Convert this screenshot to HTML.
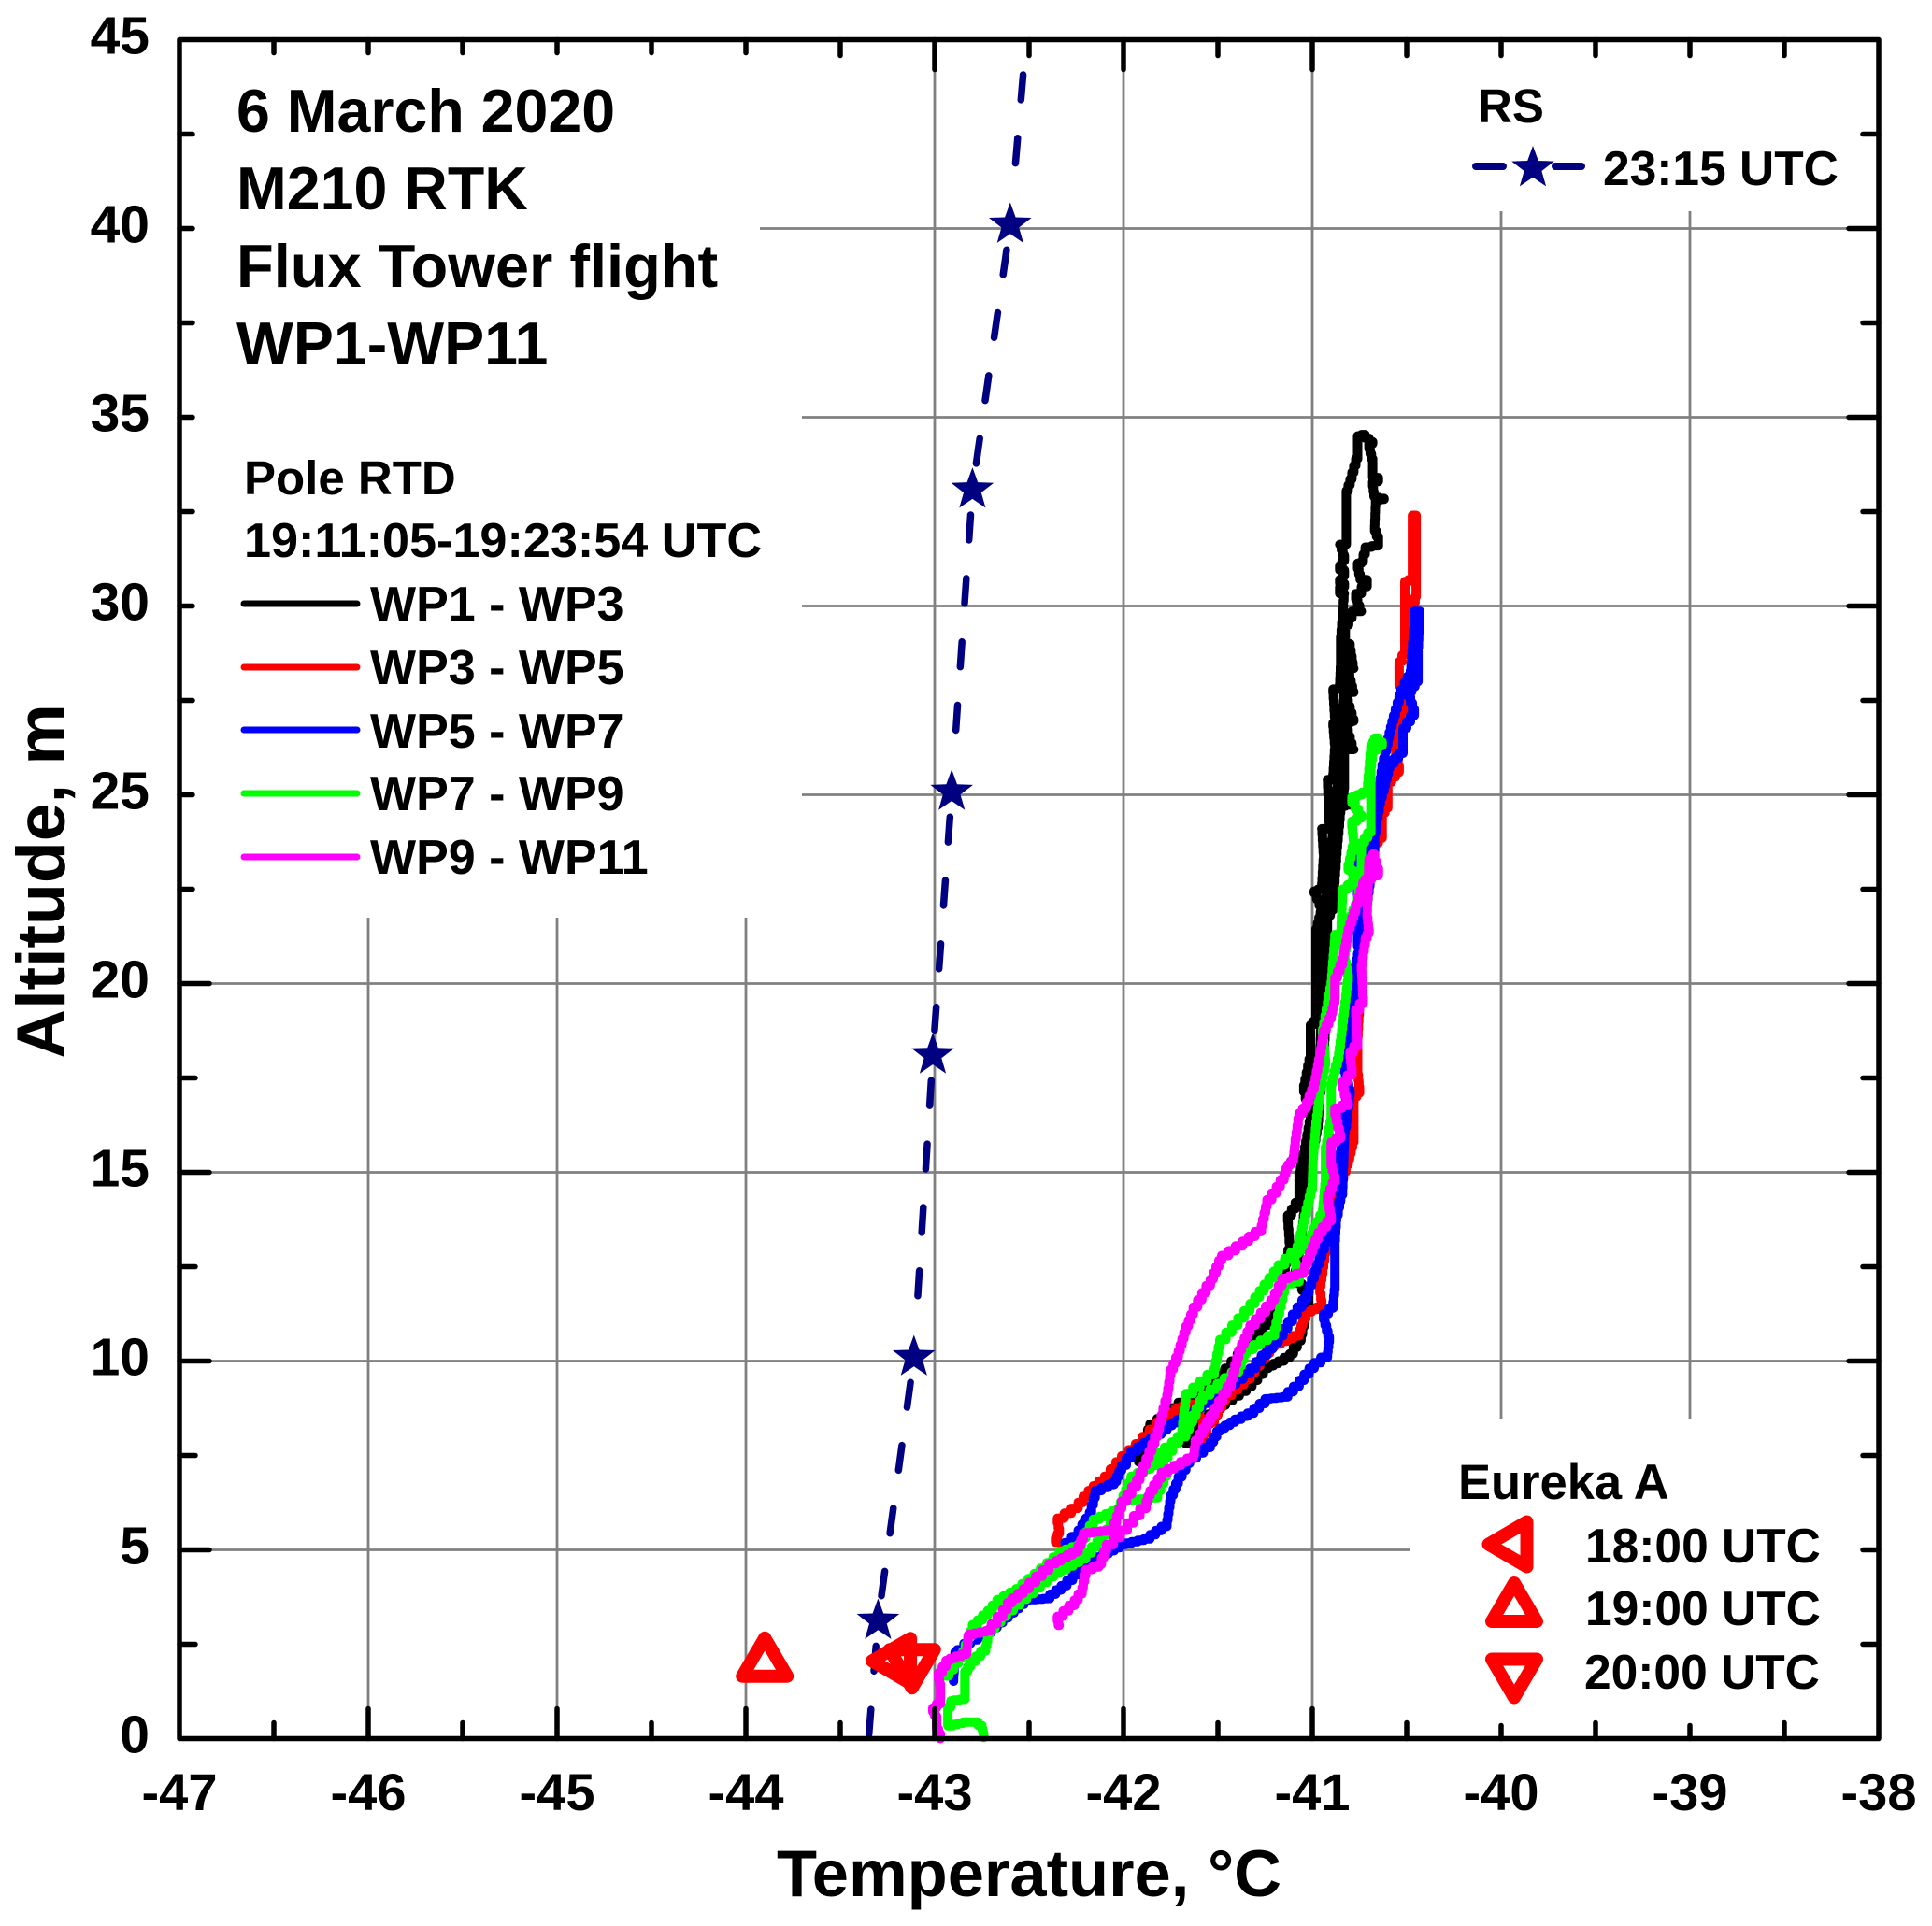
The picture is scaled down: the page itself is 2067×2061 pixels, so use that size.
<!DOCTYPE html>
<html>
<head>
<meta charset="utf-8">
<title>Temperature profile 6 March 2020</title>
<style>
html,body{margin:0;padding:0;background:#fff;}
svg{display:block;}
text{font-family:"Liberation Sans",Arial,sans-serif;font-weight:bold;fill:#000;}
</style>
</head>
<body>
<svg id="chart" xmlns="http://www.w3.org/2000/svg" width="2067" height="2061" viewBox="0 0 2067 2061">
  <rect x="0" y="0" width="2067" height="2061" fill="#fff"/>
  <g id="grid"></g>
  <g id="series"></g>
  <g id="rs"></g>
  <g id="eureka"></g>
  <g id="axes"></g>

  <text x="1101" y="2029" font-size="70.5" text-anchor="middle">Temperature, °C</text>
  <text transform="translate(69,943) rotate(-90)" font-size="73.5" text-anchor="middle">Altitude, m</text>

  <g>
    <text x="253" y="141" font-size="64.5">6 March 2020</text>
    <text x="253" y="224" font-size="64.5">M210 RTK</text>
    <text x="253" y="307" font-size="65">Flux Tower flight</text>
    <text x="253" y="390" font-size="64.5">WP1-WP11</text>
  </g>

  <g>
    <text x="261" y="529" font-size="51">Pole RTD</text>
    <text x="261" y="596" font-size="52.2">19:11:05-19:23:54 UTC</text>
    <line x1="261" x2="382" y1="646" y2="646" stroke="#000000" stroke-width="7" stroke-linecap="round"/>
    <text x="396" y="664" font-size="52">WP1 - WP3</text>
    <line x1="261" x2="382" y1="714" y2="714" stroke="#ff0000" stroke-width="7" stroke-linecap="round"/>
    <text x="396" y="732" font-size="52">WP3 - WP5</text>
    <line x1="261" x2="382" y1="781" y2="781" stroke="#0000ff" stroke-width="7" stroke-linecap="round"/>
    <text x="396" y="800" font-size="52">WP5 - WP7</text>
    <line x1="261" x2="382" y1="849" y2="849" stroke="#00ff00" stroke-width="7" stroke-linecap="round"/>
    <text x="396" y="867" font-size="52">WP7 - WP9</text>
    <line x1="261" x2="382" y1="917" y2="917" stroke="#ff00ff" stroke-width="7" stroke-linecap="round"/>
    <text x="396" y="935" font-size="52">WP9 - WP11</text>
  </g>

  <g>
    <text x="1581" y="131" font-size="51">RS</text>
    <line x1="1579" x2="1608" y1="178" y2="178" stroke="#000080" stroke-width="8" stroke-linecap="round"/>
    <polygon id="rsLegendStar" fill="#000080"/>
    <line x1="1664" x2="1692" y1="178" y2="178" stroke="#000080" stroke-width="8" stroke-linecap="round"/>
    <text x="1715" y="198" font-size="51.5">23:15 UTC</text>
  </g>

  <g>
    <text x="1560" y="1604" font-size="52.5">Eureka A</text>
    <polygon id="legLeft" fill="none" stroke="#ff0000" stroke-width="14" stroke-linejoin="round"/>
    <text x="1696" y="1672" font-size="51.5">18:00 UTC</text>
    <polygon id="legUp" fill="none" stroke="#ff0000" stroke-width="14" stroke-linejoin="round"/>
    <text x="1696" y="1739" font-size="51.5">19:00 UTC</text>
    <polygon id="legDown" fill="none" stroke="#ff0000" stroke-width="14" stroke-linejoin="round"/>
    <text x="1695" y="1807" font-size="51.5">20:00 UTC</text>
  </g>
</svg>
<script>
// ---- chart data ----
const xTickLabels = [-47,-46,-45,-44,-43,-42,-41,-40,-39,-38];
const yTickLabels = [0,5,10,15,20,25,30,35,40,45];

const wp1Wp3Points = [[-41.92,7.33],[-41.86,8.19],[-41.71,8.76],[-41.56,9.33],[-41.43,9.81],[-41.2,11.14],[-41.16,12],[-41.12,12.95],[-41.13,13.7],[-41.07,14.2],[-41.07,14.8],[-41.04,15.5],[-41.01,16.35],[-41.045,17.13],[-41.01,18],[-41.01,18.8],[-40.98,19],[-40.98,21.3],[-40.95,21.9],[-40.99,22.4],[-40.95,22.5],[-40.94,23.3],[-40.95,24.1],[-40.91,24.1],[-40.92,25.37],[-40.89,25.4],[-40.88,26.2],[-40.89,26.8],[-40.88,26.9],[-40.89,27.7],[-40.855,27.8],[-40.85,28.4],[-40.85,29],[-40.83,30.33],[-40.855,30.33],[-40.83,30.5],[-40.855,30.6],[-40.83,30.8],[-40.855,30.95],[-40.83,31.2],[-40.855,31.63],[-40.82,31.63],[-40.82,32.9],[-40.79,33.36],[-40.76,33.9],[-40.76,34.47],[-40.72,34.54],[-40.68,34.35],[-40.7,34.3],[-40.68,33.9],[-40.68,33.45],[-40.65,33.4],[-40.68,33.3],[-40.67,32.9],[-40.62,32.85],[-40.665,32.8],[-40.67,32.13],[-40.65,31.84],[-40.65,31.63],[-40.72,31.56],[-40.74,31.18],[-40.76,31.13],[-40.74,30.7],[-40.71,30.7],[-40.77,30.33],[-40.74,29.86],[-40.79,29.86],[-40.825,29.5],[-40.825,28],[-40.84,27],[-40.85,26],[-40.87,25],[-40.89,24],[-40.91,23],[-40.93,22],[-40.95,21],[-40.95,19.5],[-40.96,18],[-40.98,17],[-40.99,16],[-41.01,15.4],[-41.03,14.8],[-41.01,15.4],[-40.99,16],[-40.98,17],[-40.96,18],[-40.95,19.5],[-40.95,21],[-40.93,22],[-40.91,23],[-40.89,24],[-40.87,25],[-40.85,26],[-40.84,27],[-40.825,28],[-40.8,29],[-40.78,28.35],[-40.81,28.35],[-40.78,27.73],[-40.82,27.7],[-40.78,27],[-40.82,26.9],[-40.78,26.2],[-40.83,26.2],[-40.83,25.3],[-40.84,24.85],[-40.8,24.77],[-40.85,24.7],[-40.87,23.6],[-40.88,22.86],[-40.89,22.1],[-40.92,21.8],[-40.92,21.3],[-40.93,19],[-40.94,18],[-40.96,17.1],[-40.97,16.35],[-41,15.5],[-41.02,14.8],[-41.04,14.2],[-41.05,13.7],[-41.07,13],[-41.09,12.4],[-41.02,11.7],[-41.06,10.71],[-41.12,10.19],[-41.18,10],[-41.26,9.81],[-41.35,9.33],[-41.46,8.95],[-41.58,8.48],[-41.67,7.81]];

const wp3Wp5Points = [[-42.34,5.19],[-42.36,5.2],[-42.34,5.43],[-42.35,5.71],[-42.24,6.1],[-42.16,6.57],[-42.07,6.95],[-42.01,7.33],[-41.9,7.81],[-41.79,8.38],[-41.69,8.76],[-41.62,8.86],[-41.56,8.29],[-41.61,7.71],[-41.56,8.29],[-41.52,8.38],[-41.5,8.57],[-41.46,8.95],[-41.33,9.52],[-41.2,10.38],[-41.07,10.67],[-41.05,10.95],[-41.03,11.24],[-40.95,11.43],[-40.96,11.81],[-40.94,12.48],[-40.91,13.43],[-40.92,13.5],[-40.81,15.2],[-40.78,15.8],[-40.78,16.9],[-40.75,17.1],[-40.76,17.6],[-40.76,18.4],[-40.71,23],[-40.67,23.6],[-40.63,23.85],[-40.63,24.4],[-40.6,24.65],[-40.6,25.2],[-40.54,25.6],[-40.57,26.4],[-40.52,27],[-40.49,27.6],[-40.54,27.9],[-40.54,28.35],[-40.51,28.7],[-40.51,30.6],[-40.47,30.7],[-40.47,32.4],[-40.45,32.4],[-40.45,30.4],[-40.48,29.6]];

const wp5Wp7Points = [[-42.9,1.52],[-42.89,2.29],[-42.88,2.19],[-42.81,2.52],[-42.7,2.81],[-42.58,3.33],[-42.5,3.67],[-42.39,3.71],[-42.3,4.05],[-42.21,4.48],[-42.11,4.81],[-41.99,5.14],[-41.86,5.29],[-41.77,5.62],[-41.75,6.29],[-41.71,6.76],[-41.65,7.29],[-41.54,7.71],[-41.49,8.14],[-41.41,8.38],[-41.31,8.62],[-41.22,9],[-41.13,9.05],[-41.07,9.33],[-40.99,9.81],[-40.92,10.1],[-40.91,10.5],[-40.94,11.1],[-40.89,11.4],[-40.88,11.9],[-40.88,13],[-40.87,13.9],[-40.84,14.4],[-40.82,17.2],[-40.77,19.6],[-40.73,21.3],[-40.67,23.5],[-40.67,23.8],[-40.64,24.75],[-40.62,25.1],[-40.59,25.7],[-40.52,26.1],[-40.52,26.6],[-40.46,27.1],[-40.49,27.6],[-40.44,28],[-40.44,28.7],[-40.43,29.86],[-40.46,29.86],[-40.46,29.6],[-40.48,28.3],[-40.53,27.8],[-40.57,27.1],[-40.6,26.5],[-40.63,25.8],[-40.66,24.75],[-40.69,23.7],[-40.76,23.4],[-40.76,21],[-40.74,21.3],[-40.76,20.8],[-40.79,20],[-40.82,19],[-40.84,18],[-40.8,17.2],[-40.82,16.35],[-40.855,15.5],[-40.85,14.45],[-40.87,13.87],[-40.88,13.9],[-40.95,12.95],[-41.03,11.81],[-41.18,10.67],[-41.33,9.81],[-41.48,9.24],[-41.69,8.52],[-41.77,8.29],[-41.86,7.95],[-41.96,7.62],[-42.01,7.24],[-42.05,6.81],[-42.15,6.57],[-42.16,6.38],[-42.18,6],[-42.24,5.52],[-42.31,5.19]];

const wp7Wp9Points = [[-42.74,0.03],[-42.75,0.26],[-42.79,0.44],[-42.85,0.44],[-42.93,0.34],[-42.93,0.67],[-42.9,1],[-42.84,1.04],[-42.84,1.66],[-42.81,1.91],[-42.73,2.32],[-42.72,2.57],[-42.71,2.76],[-42.62,3.24],[-42.37,4.29],[-42.2,4.76],[-42.11,5.24],[-42.05,5.71],[-41.99,6.29],[-41.82,6.38],[-41.77,6.95],[-41.82,7.43],[-41.67,8],[-41.58,8.95],[-41.39,9.71],[-41.35,10.19],[-41.2,10.67],[-41.14,12],[-41.07,12.1],[-41.1,12.76],[-41.02,13.05],[-40.945,13.87],[-40.93,14.7],[-40.93,15.5],[-40.9,16.35],[-40.9,17.2],[-40.86,18],[-40.84,18.8],[-40.81,20.06],[-40.85,21.3],[-40.82,20.9],[-40.81,21.5],[-40.76,22.1],[-40.74,22.86],[-40.74,23.6],[-40.69,24],[-40.69,25.6],[-40.68,26.08],[-40.63,26.3],[-40.67,26.5],[-40.69,26.3],[-40.71,25.13],[-40.79,24.94],[-40.74,24.47],[-40.79,24.3],[-40.78,23.8],[-40.81,23.15],[-40.76,22.86],[-40.84,22.5],[-40.85,21.26],[-40.88,21.07],[-40.88,21.3],[-40.9,20.06],[-40.945,18.8],[-40.93,18],[-40.96,17.2],[-40.98,16.35],[-40.995,15.5],[-41,14.7],[-41.04,13.87],[-41.08,13.05],[-41.18,12.55],[-41.33,11.52],[-41.49,10.57],[-41.52,9.81],[-41.67,9.14],[-41.69,8.19],[-41.79,7.43],[-41.96,6.95],[-42.03,6.1],[-42.16,5.81],[-42.24,5.14],[-42.34,4.96],[-42.44,4.51],[-42.57,3.97],[-42.67,3.68],[-42.72,3.39],[-42.8,3.02],[-42.85,2.32],[-42.95,1.66]];

const wp9Wp11Points = [[-42.97,0],[-42.99,0.26],[-42.99,0.5],[-43.01,0.71],[-42.97,0.92],[-42.97,1.33],[-42.98,1.58],[-42.92,2.07],[-42.83,2.24],[-42.82,2.73],[-42.7,2.86],[-42.64,3.23],[-42.59,3.6],[-42.5,3.97],[-42.36,4.63],[-42.24,4.95],[-42.2,5.43],[-42.05,5.52],[-42.01,6.1],[-41.93,6.67],[-41.88,7.24],[-41.82,8],[-41.77,8.95],[-41.75,9.62],[-41.71,10.1],[-41.67,10.76],[-41.63,11.24],[-41.54,12],[-41.48,12.67],[-41.37,13.05],[-41.27,13.43],[-41.24,14.1],[-41.19,14.45],[-41.15,14.8],[-41.13,15.1],[-41.1,15.3],[-41.09,15.7],[-41.07,16.43],[-41.03,16.7],[-40.99,17.2],[-40.96,18],[-40.94,18.6],[-40.9,19.07],[-40.88,19.5],[-40.88,19.98],[-40.84,20.5],[-40.81,21.3],[-40.77,21.9],[-40.72,22.67],[-40.65,22.86],[-40.68,23.43],[-40.7,23.3],[-40.71,21.9],[-40.7,21.45],[-40.72,21.2],[-40.74,20.5],[-40.73,19.65],[-40.77,19.3],[-40.76,18.5],[-40.8,18.2],[-40.79,17.75],[-40.84,17.4],[-40.81,16.85],[-40.88,16.7],[-40.85,16],[-40.9,15.8],[-40.9,15.3],[-40.88,14.9],[-40.92,14.4],[-40.9,13.87],[-40.97,13.4],[-41.03,12.7],[-41.05,12.38],[-41.16,12.19],[-41.22,11.62],[-41.33,10.95],[-41.39,10.29],[-41.43,9.52],[-41.54,8.57],[-41.62,7.9],[-41.63,7.52],[-41.8,7.05],[-41.86,6.57],[-41.88,6.29],[-41.98,5.71],[-42.09,5.14],[-42.13,4.62],[-42.2,4.48],[-42.22,4],[-42.26,3.67],[-42.35,3.24],[-42.34,3]];

const rsLinePoints = [[-42.53,44.17],[-42.6,40.1],[-42.8,33.08],[-42.91,25.08],[-43.01,18.1],[-43.11,10.1],[-43.3,3.12],[-43.35,0]];

const eureka18Point = [-43.23,2.06];
const eureka19Point = [-43.9,2.16];
const eureka20Point = [-43.12,1.85];

// ---- axis functions ----
const xLeft = 192, xPerDeg = 202;
const yBottom = 1860.5, yPerMetre = 40.4;
function xPos(t){ return xLeft + (t + 47) * xPerDeg; }
function yPos(a){ return yBottom - a * yPerMetre; }

const NS = 'http://www.w3.org/2000/svg';
function make(tag, parent, attrs){
  const el = document.createElementNS(NS, tag);
  for (const k in attrs) el.setAttribute(k, attrs[k]);
  parent.appendChild(el);
  return el;
}
function starPoints(cx, cy, r){
  const pts = [];
  for (let i = 0; i < 10; i++){
    const rad = i % 2 ? r * 0.41 : r;
    const ang = -Math.PI / 2 + i * Math.PI / 5;
    pts.push((cx + rad * Math.cos(ang)).toFixed(1) + ',' + (cy + rad * Math.sin(ang)).toFixed(1));
  }
  return pts.join(' ');
}
function trianglePoints(cx, cy, dir){
  const b = 24, h = 20.5;
  if (dir === 'up') return [cx,cy-h, cx-b,cy+h, cx+b,cy+h].join(' ');
  if (dir === 'down') return [cx,cy+h, cx-b,cy-h, cx+b,cy-h].join(' ');
  return [cx-h,cy, cx+h,cy-b, cx+h,cy+b].join(' ');
}

// ---- grid ----
const grid = document.getElementById('grid');
const axes = document.getElementById('axes');
const gridStyle = {stroke:'#808080','stroke-width':2.8};
xTickLabels.slice(1, -1).forEach(function(t){
  const x = xPos(t);
  let y1 = yPos(45), y2 = yBottom;
  if (t <= -44) y1 = 982;
  if (t >= -40){ y1 = 226; y2 = 1518; }
  const ln = make('line', grid, Object.assign({x1:x, x2:x, y1:y1, y2:y2}, gridStyle));
  
  
});
yTickLabels.slice(1, -1).forEach(function(a){
  const y = yPos(a);
  let x1 = xLeft, x2 = xPos(-38);
  if (a === 40) x1 = 813;
  if (a >= 25 && a <= 35) x1 = 858;
  if (a === 5) x2 = 1509;
  const ln = make('line', grid, Object.assign({x1:x1, x2:x2, y1:y, y2:y}, gridStyle));
  
  
});

// ---- profile series (logger steps drawn as a fine staircase between read points) ----
function drawProfile(points, colour, width){
  let d = '';
  points.forEach(function(p, i){
    const x = xPos(p[0]), y = yPos(p[1]);
    if (i === 0){ d += 'M' + x.toFixed(1) + ' ' + y.toFixed(1); return; }
    const px = xPos(points[i - 1][0]), py = yPos(points[i - 1][1]);
    const n = Math.max(1, Math.ceil(Math.max(Math.abs(x - px), Math.abs(y - py)) / 8));
    for (let k = 1; k <= n; k++){
      d += ' V' + (py + (y - py) * k / n).toFixed(1) + ' H' + (px + (x - px) * k / n).toFixed(1);
    }
  });
  return make('path', document.getElementById('series'), {d:d, fill:'none', stroke:colour, 'stroke-width':width, 'stroke-linejoin':'round', 'stroke-linecap':'round'});
}
const lineWp1 = drawProfile(wp1Wp3Points, '#000000', 10);


const lineWp3 = drawProfile(wp3Wp5Points, '#ff0000', 10);


const lineWp5 = drawProfile(wp5Wp7Points, '#0000ff', 10);


const lineWp7 = drawProfile(wp7Wp9Points, '#00ff00', 10);


const lineWp9 = drawProfile(wp9Wp11Points, '#ff00ff', 10);



// ---- radiosonde ----
const rsGroup = document.getElementById('rs');
let rsPath = '';
rsLinePoints.forEach(function(p, i){
  if (i === rsLinePoints.length - 1) return;
  const q = rsLinePoints[i + 1];
  const ax = xPos(p[0]), ay = yPos(p[1]), bx = xPos(q[0]), by = yPos(q[1]);
  const len = Math.hypot(bx - ax, by - ay);
  const ux = (bx - ax) / len, uy = (by - ay) / len;
  const startGap = i === 0 ? 4 : 27;
  const endGap = i === rsLinePoints.length - 2 ? 0 : 27;
  rsPath += 'M' + (ax + ux * startGap).toFixed(1) + ' ' + (ay + uy * startGap).toFixed(1) +
            'L' + (bx - ux * endGap).toFixed(1) + ' ' + (by - uy * endGap).toFixed(1) + ' ';
});
const rsLine = make('path', rsGroup, {d:rsPath, fill:'none', stroke:'#000080', 'stroke-width':7.5, 'stroke-linecap':'round', 'stroke-dasharray':'27 41'});


rsLinePoints.slice(1, -1).forEach(function(p){
  const s = make('polygon', rsGroup, {points:starPoints(xPos(p[0]), yPos(p[1]), 24), fill:'#000080'});
  
  
});
document.getElementById('rsLegendStar').setAttribute('points', starPoints(1640, 180, 24));

// ---- Eureka markers ----
const eurekaGroup = document.getElementById('eureka');
const triStyle = {fill:'none', stroke:'#ff0000', 'stroke-width':14, 'stroke-linejoin':'round'};
const m18 = make('polygon', eurekaGroup, Object.assign({points:trianglePoints(xPos(eureka18Point[0]), yPos(eureka18Point[1]), 'left')}, triStyle));


const m19 = make('polygon', eurekaGroup, Object.assign({points:trianglePoints(xPos(eureka19Point[0]), yPos(eureka19Point[1]), 'up')}, triStyle));


const m20 = make('polygon', eurekaGroup, Object.assign({points:trianglePoints(xPos(eureka20Point[0]), yPos(eureka20Point[1]), 'down')}, triStyle));


document.getElementById('legLeft').setAttribute('points', trianglePoints(1613, 1652.5, 'left'));
document.getElementById('legUp').setAttribute('points', trianglePoints(1620, 1714.5, 'up'));
document.getElementById('legDown').setAttribute('points', trianglePoints(1620, 1796, 'down'));

// ---- axes, ticks ----
const xL = xPos(-47), xR = xPos(-38), yB = yPos(0), yT = yPos(45);
const frame = make('rect', axes, {x:xL, y:yT, width:xR - xL, height:yB - yT, fill:'none', stroke:'#000', 'stroke-width':5.5, 'stroke-linejoin':'round'});


function tick(x1, y1, x2, y2){
  const t = make('line', axes, {x1:x1, y1:y1, x2:x2, y2:y2, stroke:'#000', 'stroke-width':5.5, 'stroke-linecap':'round'});
  
  
}
xTickLabels.forEach(function(t, i){
  // major ticks, top and bottom
  const x = xPos(t);
  if (i > 0 && i < xTickLabels.length - 1){
    tick(x, yB, x, yB - (t >= -40 ? 14 : 32));
    tick(x, yT, x, yT + (t <= -44 ? 14 : (t >= -40 ? 17 : 32)));
  }
  if (i < xTickLabels.length - 1){
    const mx = xPos(t + 0.5);
    tick(mx, yB, mx, yB - 17);
    tick(mx, yT, mx, yT + (t + 0.5 <= -44 ? 14 : 17));
  }
  const lab = make('text', axes, {x:x, y:1937, 'font-size':56, 'text-anchor':'middle'});
  lab.textContent = String(t);
  
  
});
yTickLabels.forEach(function(a, i){
  const y = yPos(a);
  if (i > 0 && i < yTickLabels.length - 1){
    tick(xL, y, xL + (a >= 25 ? 14 : 32), y);
    tick(xR, y, xR - (a === 5 ? 17 : 32), y);
  }
  if (i < yTickLabels.length - 1){
    const my = yPos(a + 2.5);
    tick(xL, my, xL + (a + 2.5 >= 22.5 ? 14 : 17), my);
    tick(xR, my, xR - 17, my);
  }
  const lab = make('text', axes, {x:160, y:y + 15, 'font-size':57, 'text-anchor':'end'});
  lab.textContent = String(a);
  
  
});
</script>
</body>
</html>
